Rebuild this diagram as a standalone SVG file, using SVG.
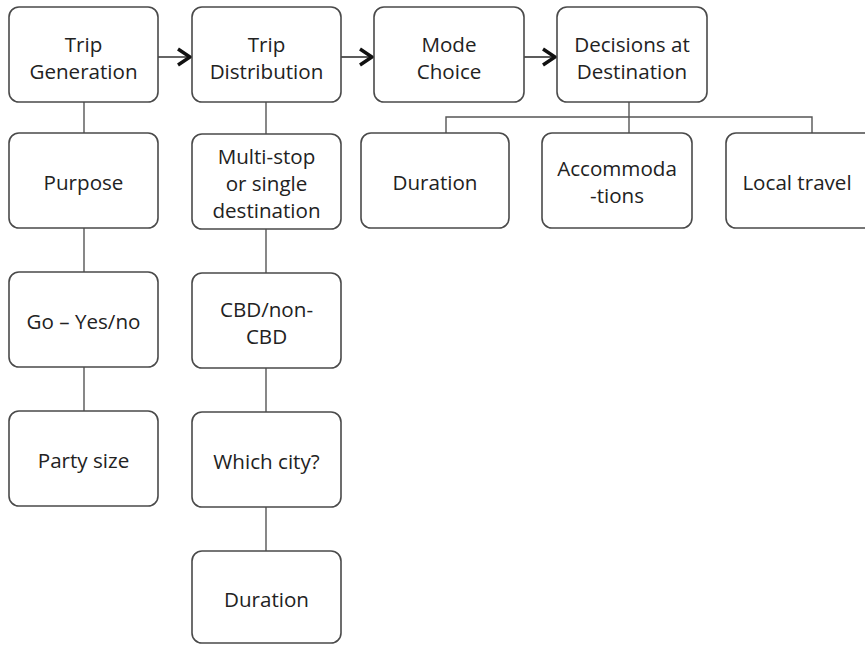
<svg xmlns="http://www.w3.org/2000/svg" width="865" height="645" viewBox="0 0 865 645">
<defs>
<style>
.box{fill:#fff;stroke:#4a4a4a;stroke-width:1.6}
.lbl{font-family:"Open Sans","Liberation Sans",sans-serif;font-size:20.6px;fill:#222;text-anchor:middle}
.con{stroke:#555;stroke-width:1.4;fill:none}
.arr{stroke:#333;stroke-width:1.6;fill:none}
</style>
<marker id="chev" markerUnits="userSpaceOnUse" markerWidth="20" markerHeight="22" refX="16" refY="10" orient="auto">
<path d="M3,2 L15,10 L3,18" fill="none" stroke="#111" stroke-width="3.4" stroke-linejoin="miter"/>
</marker>
</defs>
<rect width="865" height="645" fill="#fff"/>
<g id="connectors">
<line class="arr" x1="158" y1="57" x2="191" y2="57" marker-end="url(#chev)"/>
<line class="arr" x1="341" y1="57" x2="373" y2="57" marker-end="url(#chev)"/>
<line class="arr" x1="524" y1="57" x2="556" y2="57" marker-end="url(#chev)"/>
<line class="con" x1="84" y1="102" x2="84" y2="133"/>
<line class="con" x1="84" y1="228" x2="84" y2="272"/>
<line class="con" x1="84" y1="367" x2="84" y2="411"/>
<line class="con" x1="266" y1="102" x2="266" y2="134"/>
<line class="con" x1="266" y1="229" x2="266" y2="273"/>
<line class="con" x1="266" y1="368" x2="266" y2="412"/>
<line class="con" x1="266" y1="507" x2="266" y2="551"/>
<line class="con" x1="629" y1="102" x2="629" y2="133"/>
<path class="con" d="M446,133 V117 H812 V133"/>
</g>
<g id="trip-generation"><rect class="box" x="9" y="7" width="149" height="95" rx="10"/><text class="lbl" x="83.5" y="52">Trip</text><text class="lbl" x="83.5" y="79">Generation</text></g>
<g id="trip-distribution"><rect class="box" x="192" y="7" width="149" height="95" rx="10"/><text class="lbl" x="266.5" y="52">Trip</text><text class="lbl" x="266.5" y="79">Distribution</text></g>
<g id="mode-choice"><rect class="box" x="374" y="7" width="150" height="95" rx="10"/><text class="lbl" x="449" y="52">Mode</text><text class="lbl" x="449" y="79">Choice</text></g>
<g id="decisions"><rect class="box" x="557" y="7" width="150" height="95" rx="10"/><text class="lbl" x="632" y="52">Decisions at</text><text class="lbl" x="632" y="79">Destination</text></g>
<g id="purpose"><rect class="box" x="9" y="133" width="149" height="95" rx="10"/><text class="lbl" x="83.5" y="190">Purpose</text></g>
<g id="go"><rect class="box" x="9" y="272" width="149" height="95" rx="10"/><text class="lbl" x="83.5" y="329">Go – Yes/no</text></g>
<g id="party-size"><rect class="box" x="9" y="411" width="149" height="95" rx="10"/><text class="lbl" x="83.5" y="468">Party size</text></g>
<g id="multi-stop"><rect class="box" x="192" y="134" width="149" height="95" rx="10"/><text class="lbl" x="266.5" y="164">Multi-stop</text><text class="lbl" x="266.5" y="191">or single</text><text class="lbl" x="266.5" y="218">destination</text></g>
<g id="cbd"><rect class="box" x="192" y="273" width="149" height="95" rx="10"/><text class="lbl" x="266.5" y="317">CBD/non-</text><text class="lbl" x="266.5" y="344">CBD</text></g>
<g id="which-city"><rect class="box" x="192" y="412" width="149" height="95" rx="10"/><text class="lbl" x="266.5" y="469">Which city?</text></g>
<g id="duration-1"><rect class="box" x="192" y="551" width="149" height="92" rx="10"/><text class="lbl" x="266.5" y="607">Duration</text></g>
<g id="duration-2"><rect class="box" x="361" y="133" width="148" height="95" rx="10"/><text class="lbl" x="435" y="190">Duration</text></g>
<g id="accommodations"><rect class="box" x="542" y="133" width="150" height="95" rx="10"/><text class="lbl" x="617" y="176">Accommoda</text><text class="lbl" x="617" y="203">-tions</text></g>
<g id="local-travel"><rect class="box" x="726" y="133" width="149" height="95" rx="10"/><text class="lbl" x="797" y="190">Local travel</text></g>
</svg>
